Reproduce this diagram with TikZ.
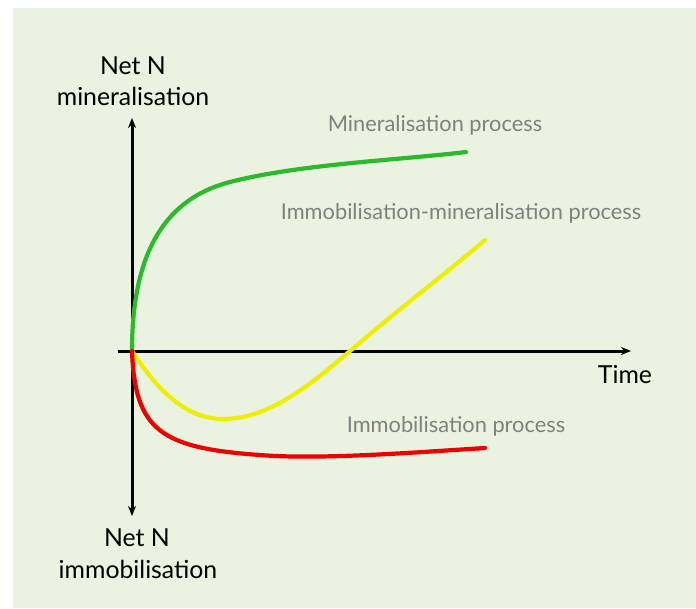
\documentclass[tikz,border=0pt]{standalone}
\usepackage{fontspec}
\setmainfont{Lato}
\usetikzlibrary{arrows.meta}
\definecolor{bg}{RGB}{234,243,223}
\definecolor{cgreen}{RGB}{45,185,45}
\definecolor{cyellow}{RGB}{238,238,0}
\definecolor{cred}{RGB}{235,0,0}
\definecolor{lbl}{RGB}{128,128,128}
\tikzset{
  axis/.style={line width=3pt,-{Stealth[length=10pt,width=8pt]}},
  curve/.style={line width=4.2pt,line cap=round},
  axlabel/.style={font=\fontsize{24.8pt}{29pt}\selectfont,text=black,anchor=base,inner sep=0pt},
  proclabel/.style={font=\fontsize{21.8pt}{26pt}\selectfont,text=lbl,anchor=base,inner sep=0pt}
}
\begin{document}
\begin{tikzpicture}[x=1pt,y=-1pt]
\useasboundingbox (0,0) rectangle (696,608);
\fill[white] (0,0) rectangle (696,608);
\fill[bg] (13,8) rectangle (696,608);
\coordinate (O) at (132,351);
\coordinate (top) at (132,118);
\coordinate (bot) at (132,516);
\coordinate (left) at (118,351);
\coordinate (right) at (631,351);
\draw[axis] (O) -- (top);
\draw[axis] (O) -- (bot);
\draw[axis] (left) -- (right);
% curves
\coordinate (g1) at (230,182);
\coordinate (g2) at (466,152);
\draw[curve,cgreen] (O) .. controls (132,260) and (160,200) .. (g1)
  .. controls (300,164) and (400,160) .. (g2);
\coordinate (y1) at (225,419);
\coordinate (y2) at (350,351);
\coordinate (y3) at (485,240);
\draw[curve,cyellow] (O) .. controls (160,395) and (190,420) .. (y1)
  .. controls (270,418) and (310,385) .. (y2)
  .. controls (400,308) and (450,270) .. (y3);
\coordinate (r1) at (260,455);
\coordinate (r2) at (485,448);
\draw[curve,cred] (O) .. controls (135,430) and (160,448) .. (r1)
  .. controls (320,460) and (420,452) .. (r2);
% labels
\node[axlabel] (nm1) at (133,74) {Net N};
\node[axlabel] (nm2) at (133,105) {mineralisation};
\node[axlabel] (ni1) at (137,546) {Net N};
\node[axlabel] (ni2) at (138,578) {immobilisation};
\node[axlabel] (time) at (625,383) {Time};
\node[proclabel] (mp) at (435,131) {Mineralisation process};
\node[proclabel] (imp) at (461,219) {Immobilisation-mineralisation process};
\node[proclabel] (ip) at (456,432) {Immobilisation process};
\end{tikzpicture}
\end{document}
